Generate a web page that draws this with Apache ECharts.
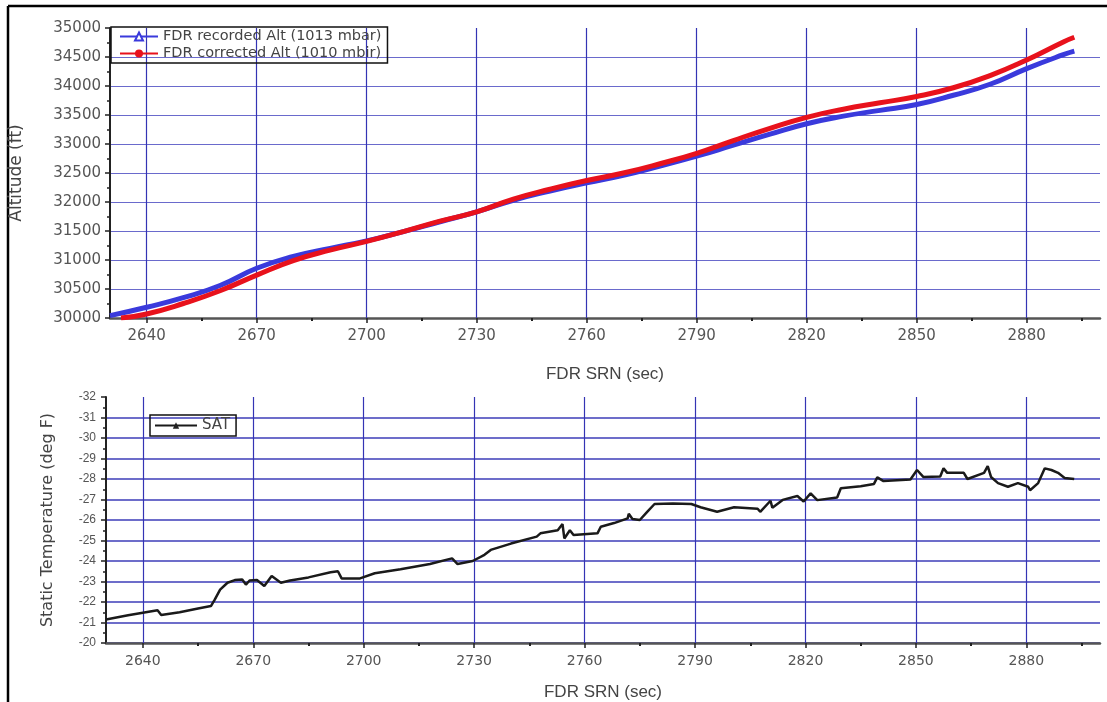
<!DOCTYPE html>
<html>
<head>
<meta charset="utf-8">
<script src="https://cdn.jsdelivr.net/npm/echarts@6/dist/echarts.min.js"></script>
<style>
html,body{margin:0;padding:0;background:#fff;}
#chart{width:1107px;height:702px;}
</style>
</head>
<body>
<div id="chart"></div>
<script>
// ---- Data ----
const xMajorTicks = [2640,2670,2700,2730,2760,2790,2820,2850,2880];
const xMinorTicks = [2655,2685,2715,2745,2775,2805,2835,2865,2895];

const recTime = [2630,2640,2650,2660,2670,2680,2690,2700,2710,2720,2730,2740,2750,2760,2770,2780,2790,2800,2810,2820,2830,2840,2850,2860,2870,2880,2890,2893];
const recAlt  = [30040,30185,30350,30560,30857,31060,31200,31330,31490,31660,31830,32030,32190,32330,32460,32620,32790,32980,33170,33350,33480,33580,33680,33840,34030,34300,34540,34600];

const corTime = [2633,2640,2650,2660,2670,2680,2690,2700,2710,2720,2730,2740,2750,2760,2770,2780,2790,2800,2810,2820,2830,2840,2850,2860,2870,2880,2890,2893];
const corAlt  = [30000,30070,30250,30470,30740,30990,31170,31320,31490,31670,31830,32050,32220,32370,32500,32660,32840,33060,33270,33460,33600,33710,33820,33970,34180,34450,34760,34840];

const satTime = [2630,2636,2640,2644,2645,2650,2655,2658.5,2659.5,2661,2663,2665,2667,2668,2669,2671,2673,2675,2677.5,2680,2685,2691,2693,2694,2699,2703,2710,2718,2724,2725.5,2729.6,2732.8,2734.5,2740,2747,2748,2752.7,2754,2754.5,2756,2757,2763.5,2764.4,2768,2771.7,2772,2773,2775,2777,2779,2784,2789,2791.5,2796,2800.6,2807,2807.7,2810.5,2811,2813.8,2817.8,2819.5,2821.4,2823.2,2828.6,2829.6,2835,2838.6,2839.5,2841.2,2848.5,2850.3,2852,2856.6,2857.5,2858.5,2863,2864,2868.5,2869.5,2870.4,2872.3,2875,2877.7,2880.5,2881,2883.2,2885,2886.8,2888.6,2890.4,2893];
const satTemp = [-21.15,-21.35,-21.48,-21.6,-21.37,-21.5,-21.68,-21.8,-22.1,-22.6,-22.94,-23.07,-23.1,-22.85,-23.05,-23.07,-22.78,-23.27,-22.94,-23.05,-23.2,-23.45,-23.5,-23.15,-23.15,-23.4,-23.6,-23.85,-24.13,-23.85,-24.0,-24.3,-24.54,-24.85,-25.19,-25.35,-25.5,-25.8,-25.1,-25.5,-25.27,-25.35,-25.67,-25.85,-26.08,-26.3,-26.05,-26.0,-26.4,-26.78,-26.8,-26.78,-26.62,-26.4,-26.62,-26.55,-26.4,-26.94,-26.6,-26.98,-27.17,-26.9,-27.3,-26.97,-27.1,-27.55,-27.65,-27.76,-28.08,-27.9,-27.98,-28.44,-28.1,-28.12,-28.52,-28.3,-28.3,-28.0,-28.3,-28.63,-28.1,-27.8,-27.62,-27.8,-27.62,-27.45,-27.8,-28.52,-28.44,-28.3,-28.05,-28.0];

const seriesNames = ['FDR recorded Alt (1013 mbar)','FDR corrected Alt (1010 mbir)','SAT'];

// ---- Build chart ----
const zip = (a,b) => a.map((v,i)=>[v,b[i]]);
const chart = echarts.init(document.getElementById('chart'));

function mainX(gridIndex, nameGap, labelSize, nameSize){
  return {
    type:'value', gridIndex, min:2630, max:2900,
    name:'FDR SRN (sec)', nameLocation:'middle', nameGap,
    nameTextStyle:{fontFamily:'Liberation Sans, Arial', fontSize:nameSize, color:'#444'},
    axisLine:{show:true, onZero:false, lineStyle:{color:'#555', width:2.5}},
    axisTick:{show:true, length:5, customValues:xMajorTicks, lineStyle:{color:'#222', width:1.5}},
    minorTick:{show:false},
    axisLabel:{fontFamily:'DejaVu Sans', fontSize:labelSize, color:'#555', margin:11,
      customValues:xMajorTicks, formatter:(v)=>String(v)},
    splitLine:{show:false}
  };
}
function minorX(gridIndex){
  return {
    type:'value', gridIndex, min:2630, max:2900, position:'bottom',
    axisLine:{show:false, onZero:false},
    axisTick:{show:true, length:3, customValues:xMinorTicks, lineStyle:{color:'#222', width:2}},
    axisLabel:{show:false},
    splitLine:{show:false}
  };
}
function vGridLines(){
  return {
    silent:true, symbol:['none','none'], z:1,
    label:{show:false},
    lineStyle:{color:'#3434b4', width:1.2, type:'solid'},
    emphasis:{disabled:true},
    data: xMajorTicks.map(v=>({xAxis:v}))
  };
}

chart.setOption({
  animation:false,
  backgroundColor:'#fff',
  grid:[
    {left:106, right:7, top:28, height:290},
    {left:106, right:7, top:397, height:246}
  ],
  xAxis:[ mainX(0, 48, 15, 17), mainX(1, 41, 14, 17), minorX(0), minorX(1) ],
  yAxis:[
    {type:'value', gridIndex:0, min:30000, max:35000, interval:500,
     name:'Altitude (ft)', nameLocation:'middle', nameGap:85,
     nameTextStyle:{fontFamily:'DejaVu Sans', fontSize:17, color:'#444'},
     axisLine:{show:true, onZero:false, lineStyle:{color:'#222', width:2}},
     axisTick:{show:true, length:5, lineStyle:{color:'#222', width:1.5}},
     minorTick:{show:true, splitNumber:2, length:3, lineStyle:{color:'#222', width:1.5}},
     axisLabel:{fontFamily:'DejaVu Sans', fontSize:15, color:'#555', margin:9, formatter:(v)=>String(v)},
     splitLine:{show:true, showMaxLine:false, lineStyle:{color:'#6a6acc', width:1.2}}
    },
    {type:'value', gridIndex:1, min:-32, max:-20, interval:1, inverse:true,
     name:'Static Temperature (deg F)', nameLocation:'middle', nameGap:50,
     nameTextStyle:{fontFamily:'DejaVu Sans', fontSize:16, color:'#444'},
     axisLine:{show:true, onZero:false, lineStyle:{color:'#222', width:2}},
     axisTick:{show:true, length:5, lineStyle:{color:'#222', width:1.5}},
     minorTick:{show:true, splitNumber:2, length:3, lineStyle:{color:'#222', width:1.5}},
     axisLabel:{fontFamily:'Liberation Sans, Arial', fontSize:12, color:'#555', margin:10},
     splitLine:{show:true, showMinLine:false, lineStyle:{color:'#3c3cb8', width:1.5}}
    }
  ],
  legend:[
    {data:[seriesNames[0], seriesNames[1]], orient:'vertical', left:111, top:27,
     borderColor:'#111', borderWidth:1.5, borderRadius:0, padding:[2,6,2,8], itemGap:2,
     itemWidth:38, itemHeight:10, textStyle:{fontFamily:'DejaVu Sans', fontSize:14.5, color:'#444'}},
    {data:[seriesNames[2]], left:150, top:415,
     borderColor:'#111', borderWidth:1.5, borderRadius:0, padding:[3,6,3,4],
     itemWidth:42, itemHeight:8, textStyle:{fontFamily:'DejaVu Sans', fontSize:15, color:'#444'}}
  ],
  graphic:[
    {type:'line', shape:{x1:8, y1:6, x2:1107, y2:6}, style:{stroke:'#000', lineWidth:2.5}},
    {type:'line', shape:{x1:8, y1:6, x2:8, y2:702}, style:{stroke:'#000', lineWidth:2.5}}
  ],
  series:[
    {name:seriesNames[0], type:'line', xAxisIndex:0, yAxisIndex:0, smooth:true,
     data:zip(recTime, recAlt), showSymbol:false, symbol:'triangle', symbolSize:7,
     itemStyle:{color:'#ffffff', borderColor:'#3a3adc', borderWidth:1},
     lineStyle:{color:'#3a3adc', width:5},
     markLine:vGridLines()},
    {name:seriesNames[1], type:'line', xAxisIndex:0, yAxisIndex:0, smooth:true,
     data:zip(corTime, corAlt), showSymbol:false, symbol:'circle', symbolSize:7,
     itemStyle:{color:'#e8121c'},
     lineStyle:{color:'#e8121c', width:5}},
    {name:seriesNames[2], type:'line', xAxisIndex:1, yAxisIndex:1,
     data:zip(satTime, satTemp), showSymbol:false, symbol:'triangle', symbolSize:5,
     itemStyle:{color:'#222'},
     lineStyle:{color:'#1a1a1a', width:2.5},
     markLine:vGridLines()}
  ]
});
</script>
</body>
</html>
